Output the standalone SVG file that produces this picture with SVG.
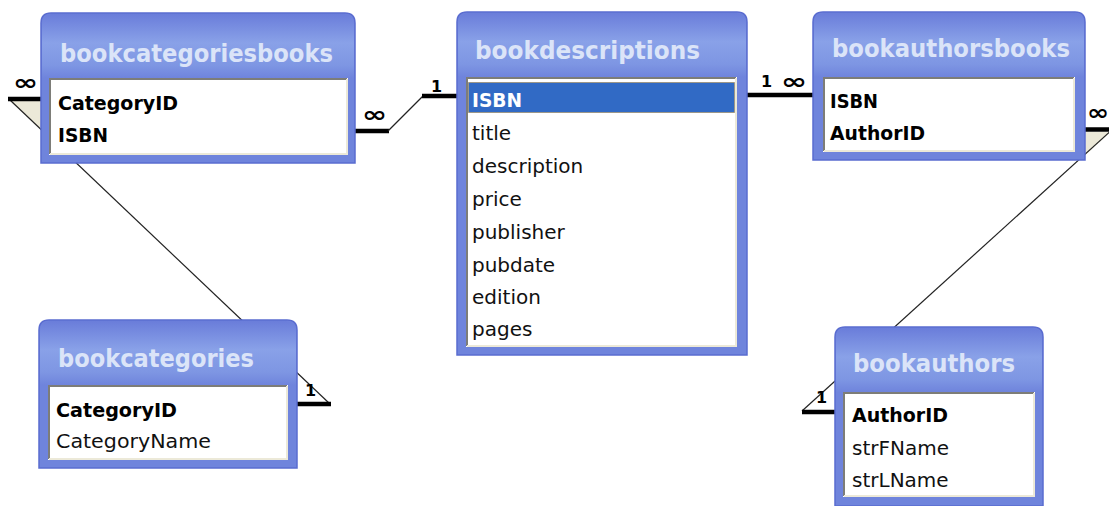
<svg xmlns="http://www.w3.org/2000/svg" width="1109" height="506" viewBox="0 0 1109 506">
<style>
.box{fill:#6f84dc;stroke:#5a6cd0;stroke-width:1.5}
.hdr{fill:url(#hg)}
.inner{fill:#ffffff;stroke:none}
.sunk1{fill:none;stroke:#7d7d78;stroke-width:2}
.sunk2{fill:none;stroke:#ece9d8;stroke-width:2}
.title{font-family:"DejaVu Sans",sans-serif;font-weight:bold;font-size:25px;fill:#dbe4f8}
.fb{font-family:"DejaVu Sans",sans-serif;font-weight:bold;font-size:19px;fill:#000}
.f{font-family:"DejaVu Sans",sans-serif;font-size:20px;fill:#111}
.thin{stroke:#222;stroke-width:1.2;fill:none}
.thick{stroke:#000;stroke-width:4.5;fill:none}
.inf{font-family:"DejaVu Sans",sans-serif;font-weight:bold;font-size:22px;fill:#000}
.one{font-family:"DejaVu Sans",sans-serif;font-weight:bold;font-size:16px;fill:#000}
.beige{fill:#ece9d8;stroke:none}
</style>
<defs>
<linearGradient id="hg" x1="0" y1="0" x2="0" y2="1">
<stop offset="0" stop-color="#6a7dda"/>
<stop offset="0.45" stop-color="#89a1e8"/>
<stop offset="0.8" stop-color="#7e96e3"/>
<stop offset="1" stop-color="#6f84dc"/>
</linearGradient>
</defs>
<rect width="1109" height="506" fill="#ffffff"/>

<g id="connectors">
<polygon class="beige" points="10,101 41,101 41,129.5"/>
<line class="thin" x1="10" y1="100" x2="330" y2="404"/>
<line class="thick" x1="8" y1="99" x2="41" y2="99"/>
<line class="thick" x1="297" y1="404" x2="331" y2="404"/>
<text class="inf" x="13" y="90" textLength="25" lengthAdjust="spacingAndGlyphs">∞</text>
<text class="one" x="305" y="396">1</text>

<line class="thick" x1="355" y1="131" x2="389" y2="131"/>
<line class="thin" x1="388" y1="131" x2="423" y2="96"/>
<line class="thick" x1="422" y1="96" x2="457" y2="96"/>
<text class="inf" x="362" y="122" textLength="25" lengthAdjust="spacingAndGlyphs">∞</text>
<text class="one" x="431" y="92">1</text>

<line class="thick" x1="747" y1="95" x2="813" y2="95"/>
<text class="one" x="761" y="87">1</text>
<text class="inf" x="781" y="89" textLength="26" lengthAdjust="spacingAndGlyphs">∞</text>

<polygon class="beige" points="1085,132 1109,132 1109,133.5 1085,155.5"/>
<line class="thin" x1="1115" y1="127" x2="802" y2="411"/>
<line class="thick" x1="1085" y1="129.5" x2="1109" y2="129.5"/>
<line class="thick" x1="802" y1="412" x2="835" y2="412"/>
<text class="inf" x="1087" y="120" textLength="22" lengthAdjust="spacingAndGlyphs">∞</text>
<text class="one" x="816" y="403">1</text>
</g>

<g id="bookcategoriesbooks">
<path class="box" d="M41,163 V23 Q41,13 51,13 H345 Q355,13 355,23 V163 Z"/>
<path class="hdr" d="M42,78 V24 Q42,14 52,14 H344 Q354,14 354,24 V78 Z"/>
<rect class="inner" x="49" y="78" width="299" height="77"/>
<polyline class="sunk1" points="50,154 50,79 347,79"/>
<polyline class="sunk2" points="50,154 347,154 347,79"/>
<text class="title" x="60" y="62" textLength="273" lengthAdjust="spacingAndGlyphs">bookcategoriesbooks</text>
<text class="fb" x="58" y="110" textLength="120" lengthAdjust="spacingAndGlyphs">CategoryID</text>
<text class="fb" x="58" y="142" textLength="50" lengthAdjust="spacingAndGlyphs">ISBN</text>
</g>

<g id="bookdescriptions">
<path class="box" d="M457,355 V22 Q457,12 467,12 H737 Q747,12 747,22 V355 Z"/>
<path class="hdr" d="M458,77 V23 Q458,13 468,13 H736 Q746,13 746,23 V77 Z"/>
<rect class="inner" x="466" y="77" width="271" height="270"/>
<polyline class="sunk1" points="467,346 467,78 736,78"/>
<polyline class="sunk2" points="467,346 736,346 736,78"/>
<rect x="468.5" y="82.5" width="266" height="30" fill="#316ac5" stroke="#a07a30" stroke-width="1" stroke-dasharray="1 1"/>
<text class="title" x="475" y="59" textLength="225" lengthAdjust="spacingAndGlyphs">bookdescriptions</text>
<text class="fb" x="472" y="107" textLength="50" lengthAdjust="spacingAndGlyphs" style="fill:#ffffff">ISBN</text>
<text class="f" x="472" y="140">title</text>
<text class="f" x="472" y="173">description</text>
<text class="f" x="472" y="206">price</text>
<text class="f" x="472" y="239">publisher</text>
<text class="f" x="472" y="272">pubdate</text>
<text class="f" x="472" y="304">edition</text>
<text class="f" x="472" y="336">pages</text>
</g>

<g id="bookauthorsbooks">
<path class="box" d="M813,160 V22 Q813,12 823,12 H1075 Q1085,12 1085,22 V160 Z"/>
<path class="hdr" d="M814,77 V23 Q814,13 824,13 H1074 Q1084,13 1084,23 V77 Z"/>
<rect class="inner" x="823" y="77" width="252" height="75"/>
<polyline class="sunk1" points="824,151 824,78 1074,78"/>
<polyline class="sunk2" points="824,151 1074,151 1074,78"/>
<text class="title" x="832" y="57" textLength="238" lengthAdjust="spacingAndGlyphs">bookauthorsbooks</text>
<text class="fb" x="830" y="108" textLength="48" lengthAdjust="spacingAndGlyphs">ISBN</text>
<text class="fb" x="830" y="140" textLength="95" lengthAdjust="spacingAndGlyphs">AuthorID</text>
</g>

<g id="bookcategories">
<path class="box" d="M39,468 V330 Q39,320 49,320 H287 Q297,320 297,330 V468 Z"/>
<path class="hdr" d="M40,385 V331 Q40,321 50,321 H286 Q296,321 296,331 V385 Z"/>
<rect class="inner" x="48" y="385" width="240" height="75"/>
<polyline class="sunk1" points="49,459 49,386 287,386"/>
<polyline class="sunk2" points="49,459 287,459 287,386"/>
<text class="title" x="58" y="367" textLength="196" lengthAdjust="spacingAndGlyphs">bookcategories</text>
<text class="fb" x="56" y="417" textLength="121" lengthAdjust="spacingAndGlyphs">CategoryID</text>
<text class="f" x="56" y="448" textLength="155" lengthAdjust="spacingAndGlyphs">CategoryName</text>
</g>

<g id="bookauthors">
<path class="box" d="M835,506 V337 Q835,327 845,327 H1033 Q1043,327 1043,337 V506 Z"/>
<path class="hdr" d="M836,392 V338 Q836,328 846,328 H1032 Q1042,328 1042,338 V392 Z"/>
<rect class="inner" x="843" y="392" width="192" height="105"/>
<polyline class="sunk1" points="844,496 844,393 1034,393"/>
<polyline class="sunk2" points="844,496 1034,496 1034,393"/>
<text class="title" x="853" y="372" textLength="162" lengthAdjust="spacingAndGlyphs">bookauthors</text>
<text class="fb" x="852" y="422" textLength="96" lengthAdjust="spacingAndGlyphs">AuthorID</text>
<text class="f" x="852" y="455">strFName</text>
<text class="f" x="852" y="487">strLName</text>
</g>
</svg>
